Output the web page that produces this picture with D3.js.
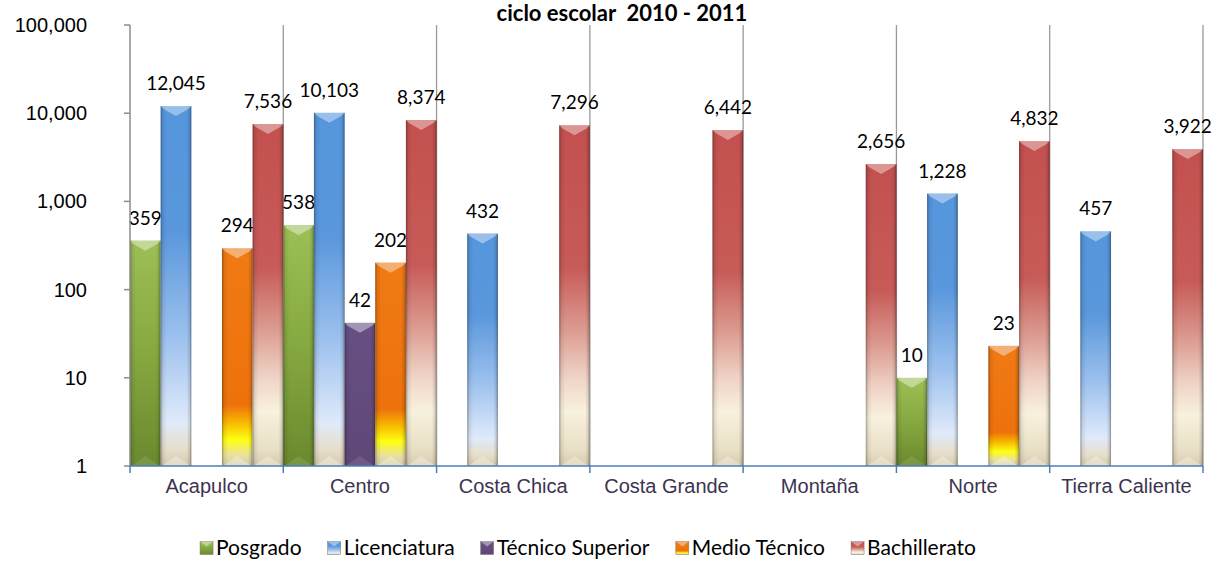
<!DOCTYPE html>
<html>
<head>
<meta charset="utf-8">
<script src="https://cdn.jsdelivr.net/npm/d3@7/dist/d3.min.js"></script>
<style>
  body { margin: 0; background: #fff; }
  #chart { width: 1214px; height: 583px; }
  text { font-family: Lato, "Open Sans", sans-serif; }
  .axis-label { font-family: "Liberation Sans", Arial, sans-serif; }
</style>
</head>
<body>
<div id="chart"></div>
<script>
const svgWidth = 1214;
const svgHeight = 583;
const margin = { top: 25, left: 130, right: 11, bottom: 117 };

// data (null = no bar)
const categories = ['Acapulco', 'Centro', 'Costa Chica', 'Costa Grande', 'Montaña', 'Norte', 'Tierra Caliente'];
const seriesNames = ['Posgrado', 'Licenciatura', 'Técnico Superior', 'Medio Técnico', 'Bachillerato'];
const posgrado = [359, 538, null, null, null, 10, null];
const licenciatura = [12045, 10103, 432, null, null, 1228, 457];
const tecnicoSuperior = [null, 42, null, null, null, null, null];
const medioTecnico = [294, 202, null, null, null, 23, null];
const bachillerato = [7536, 8374, 7296, 6442, 2656, 4832, 3922];
const yTicks = [1, 10, 100, 1000, 10000, 100000];
const title = 'ciclo escolar  2010 - 2011';

const seriesValues = [posgrado, licenciatura, tecnicoSuperior, medioTecnico, bachillerato];

//gradient stops for each series, top of bar to bottom
const gradients = {
    'Posgrado': [[0, '#9cc055'], [0.5, '#86a840'], [1, '#6a892e']],
    'Licenciatura': [[0, '#5596dc'], [0.35, '#5a97dc'], [0.65, '#9ec2ee'], [0.88, '#dfeafa'], [0.95, '#e6dfcc'], [1, '#d6cbad']],
    'Técnico Superior': [[0, '#674f83'], [1, '#5f4878']],
    'Medio Técnico': [[0, '#f07a14'], [0.72, '#ee720c'], [0.8, '#f8b800'], [0.88, '#ffff12'], [0.95, '#e9e0a0'], [1, '#d6cbab']],
    'Bachillerato': [[0, '#c3504e'], [0.42, '#c75b58'], [0.6, '#dc9b90'], [0.74, '#efd3c6'], [0.84, '#f8f1dd'], [0.95, '#e8dfc6'], [1, '#d8ccad']]
};

const width = svgWidth - margin.left - margin.right;
const height = svgHeight - margin.top - margin.bottom;

const svg = d3.select('#chart')
    .append('svg')
    .attr('width', svgWidth)
    .attr('height', svgHeight);

const defs = svg.append('defs');

seriesNames.forEach((s, i) => {
    const g = defs.append('linearGradient')
        .attr('id', 'grad' + i)
        .attr('x1', 0).attr('y1', 0).attr('x2', 0).attr('y2', 1);
    gradients[s].forEach(st => {
        g.append('stop').attr('offset', st[0]).attr('stop-color', st[1]);
    });
});

//dark sides of the bars
const side = defs.append('linearGradient')
    .attr('id', 'sides')
    .attr('x1', 0).attr('y1', 0).attr('x2', 1).attr('y2', 0);
[[0, 0.35], [0.07, 0.08], [0.2, 0], [0.85, 0], [0.94, 0.12], [1, 0.4]].forEach(st => {
    side.append('stop').attr('offset', st[0]).attr('stop-color', '#000').attr('stop-opacity', st[1]);
});

const g = svg.append('g')
    .attr('transform', `translate(${margin.left}, ${margin.top})`);

//scales
const x0 = d3.scaleBand()
    .domain(categories)
    .range([0, width])
    .padding(0);

const x1 = d3.scaleBand()
    .domain(seriesNames)
    .range([0, x0.bandwidth()])
    .padding(0);

const y = d3.scaleLog()
    .domain([1, 100000])
    .range([height, 0]);

//vertical gridlines at category boundaries
const bounds = categories.map(c => x0(c) + x0.bandwidth());
g.selectAll('.grid')
    .data(bounds).enter()
    .append('line')
    .attr('class', 'grid')
    .attr('x1', d => d).attr('x2', d => d)
    .attr('y1', 0).attr('y2', height)
    .style('stroke', '#999')
    .style('stroke-width', 1.3);

//bars
const barData = [];
categories.forEach((c, ci) => {
    seriesNames.forEach((s, si) => {
        const v = seriesValues[si][ci];
        if (v != null) barData.push({ cat: c, series: s, si: si, value: v });
    });
});

const bar = g.selectAll('.bar')
    .data(barData).enter()
    .append('g')
    .attr('class', 'bar')
    .attr('transform', d => `translate(${x0(d.cat) + x1(d.series)}, 0)`);

const bw = x1.bandwidth();

bar.append('rect')
    .attr('x', 0)
    .attr('width', bw)
    .attr('y', d => y(d.value))
    .attr('height', d => height - y(d.value))
    .style('fill', d => `url(#grad${d.si})`);

bar.append('rect')
    .attr('x', 0)
    .attr('width', bw)
    .attr('y', d => y(d.value))
    .attr('height', d => height - y(d.value))
    .style('fill', 'url(#sides)');

//top bevel
bar.append('polygon')
    .attr('points', d => {
        const t = y(d.value);
        return `0,${t} ${bw},${t} ${bw - 3},${t + 3} ${bw / 2},${t + 10} 3,${t + 3}`;
    })
    .style('fill', '#fff')
    .style('opacity', 0.4);

//bottom bevel
bar.append('polygon')
    .attr('points', `1,${height} ${bw - 1},${height} ${bw / 2},${height - 10}`)
    .style('fill', '#fff')
    .style('opacity', d => d.si === 0 || d.si === 2 ? 0.1 : 0.3);

//value labels
bar.append('text')
    .attr('x', bw / 2)
    .attr('y', d => y(d.value) - 16)
    .style('text-anchor', 'middle')
    .style('font-size', '19px')
    .style('fill', '#000')
    .text(d => d3.format(',')(d.value));

//y axis
g.append('line')
    .attr('x1', 0).attr('x2', 0)
    .attr('y1', 0).attr('y2', height)
    .style('stroke', '#8c8c8c')
    .style('stroke-width', 1.5);

const yTick = g.selectAll('.ytick')
    .data(yTicks).enter()
    .append('g')
    .attr('class', 'ytick')
    .attr('transform', d => `translate(0, ${y(d)})`);

yTick.append('line')
    .attr('x1', -6).attr('x2', 0)
    .style('stroke', '#8c8c8c')
    .style('stroke-width', 1.5);

yTick.append('text')
    .attr('class', 'axis-label')
    .attr('x', -43)
    .attr('dy', '0.35em')
    .style('text-anchor', 'end')
    .style('font-size', '20px')
    .style('fill', '#000')
    .text(d => d3.format(',')(d));

//x axis
g.append('line')
    .attr('x1', 0).attr('x2', width)
    .attr('y1', height).attr('y2', height)
    .style('stroke', '#4a7ebb')
    .style('stroke-width', 1.5);

g.selectAll('.xtick')
    .data([0].concat(bounds)).enter()
    .append('line')
    .attr('class', 'xtick')
    .attr('x1', d => d).attr('x2', d => d)
    .attr('y1', height).attr('y2', height + 7)
    .style('stroke', '#4a7ebb')
    .style('stroke-width', 1.5);

g.selectAll('.xlabel')
    .data(categories).enter()
    .append('text')
    .attr('class', 'axis-label')
    .attr('x', d => x0(d) + x0.bandwidth() / 2)
    .attr('y', height + 27)
    .style('text-anchor', 'middle')
    .style('font-size', '20px')
    .style('fill', '#3d3350')
    .text(d => d);

//title
svg.append('text')
    .attr('x', 622)
    .attr('y', 21)
    .style('text-anchor', 'middle')
    .style('font-size', '22px')
    .style('font-weight', 'bold')
    .style('white-space', 'pre')
    .text(title);

//legend
const legend = svg.append('g').attr('class', 'legend');
const sq = 13;
const items = legend.selectAll('g')
    .data(seriesNames).enter()
    .append('g');

items.append('rect')
    .attr('width', sq).attr('height', sq)
    .attr('y', -sq / 2)
    .style('fill', (d, i) => `url(#grad${i})`)
    .style('stroke', '#777')
    .style('stroke-width', 0.5);

items.append('polygon')
    .attr('points', `0,${-sq / 2} ${sq},${-sq / 2} ${sq / 2},${-sq / 2 + 5}`)
    .style('fill', '#fff')
    .style('opacity', 0.4);

items.append('text')
    .attr('x', sq + 3)
    .attr('dy', '0.35em')
    .style('font-size', '21px')
    .style('fill', '#000')
    .text(d => d);

//place legend items next to each other and center them
const gap = 26;
let cursor = 0;
items.each(function () {
    const w = this.getBBox().width;
    d3.select(this).attr('transform', `translate(${cursor}, 0)`);
    cursor += w + gap;
});
const legendWidth = cursor - gap;
legend.attr('transform', `translate(${588 - legendWidth / 2}, 548)`);
</script>
</body>
</html>
